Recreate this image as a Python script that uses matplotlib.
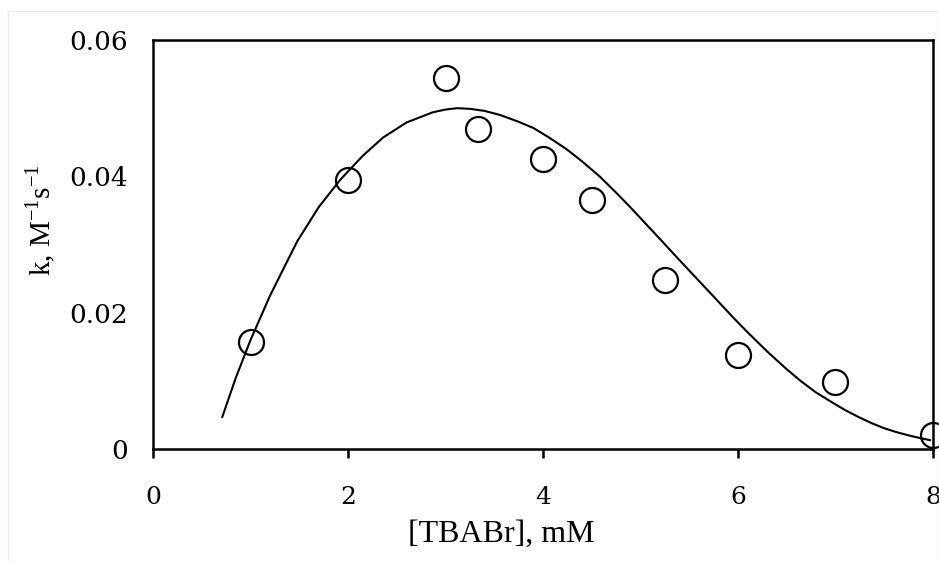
import matplotlib
matplotlib.use('Agg')
import matplotlib.pyplot as plt
from matplotlib.patches import Rectangle

# measured points
conc = [1, 2, 3, 3.33, 4, 4.5, 5.25, 6, 7, 8]
k_obs = [0.0157, 0.0395, 0.0544, 0.0469, 0.0425, 0.0366, 0.0248, 0.0138, 0.0098, 0.0021]

# fitted curve
fit_x = [0.71, 0.85, 1.0, 1.2, 1.35, 1.48, 1.7, 1.92, 2.15, 2.36, 2.6, 2.87, 3.0, 3.12,
         3.25, 3.4, 3.56, 3.75, 3.90, 4.05, 4.24, 4.4, 4.58, 4.75, 4.9, 5.05, 5.2, 5.4,
         5.61, 5.8, 5.95, 6.1, 6.30, 6.5, 6.65, 6.8, 6.97, 7.1, 7.25, 7.37, 7.49, 7.62,
         7.75, 7.87, 7.97]
fit_y = [0.0047, 0.0105, 0.0160, 0.0225, 0.0268, 0.0305, 0.0355, 0.0395, 0.0430, 0.0457,
         0.0479, 0.0494, 0.0498, 0.0500, 0.0499, 0.0496, 0.0490, 0.0480, 0.0471, 0.0458,
         0.0440, 0.0422, 0.0400, 0.0376, 0.0354, 0.0331, 0.0308, 0.0277, 0.0245, 0.0216,
         0.0193, 0.0171, 0.0143, 0.0117, 0.0099, 0.0083, 0.0068, 0.0057, 0.0046, 0.0038,
         0.0031, 0.0025, 0.0020, 0.0016, 0.0013]

xticks = [0, 2, 4, 6, 8]
xtick_labels = ['0', '2', '4', '6', '8']
yticks = [0, 0.02, 0.04, 0.06]
ytick_labels = ['0', '0.02', '0.04', '0.06']

plt.rcParams['font.family'] = ['Liberation Serif', 'DejaVu Serif']
plt.rcParams['mathtext.fontset'] = 'custom'
plt.rcParams['mathtext.rm'] = 'Liberation Serif'

fig = plt.figure(figsize=(9.39, 5.61), dpi=100)
fig.patches.append(Rectangle((0.008, 0.0), 0.992, 0.98, transform=fig.transFigure,
                             fill=False, edgecolor='#ececec', linewidth=1))
ax = fig.add_axes([0.163, 0.1996, 0.8306, 0.7291])

ax.plot(fit_x, fit_y, color='black', linewidth=1.5)
ax.plot(conc, k_obs, linestyle='none', marker='o', markersize=18,
        markerfacecolor='none', markeredgecolor='black', markeredgewidth=1.6,
        clip_on=False, zorder=3)

ax.set_xlim(0, 8)
ax.set_ylim(0, 0.06)
ax.set_xticks(xticks)
ax.set_xticklabels(xtick_labels, family='DejaVu Serif')
ax.set_yticks(yticks)
ax.set_yticklabels(ytick_labels, family='DejaVu Serif')

for s in ax.spines.values():
    s.set_linewidth(1.8)

ax.tick_params(axis='x', direction='out', length=6.5, width=1.8, labelsize=18, pad=20)
ax.tick_params(axis='y', length=0, labelsize=19, pad=18)

ax.set_xlabel('[TBABr], mM', fontsize=23)
ax.xaxis.set_label_coords(0.446, -0.172)
ax.set_ylabel('k, M$^{-1}$s$^{-1}$', fontsize=21)
ax.yaxis.set_label_coords(-0.122, 0.56)

fig.savefig('out.png', dpi=100)
